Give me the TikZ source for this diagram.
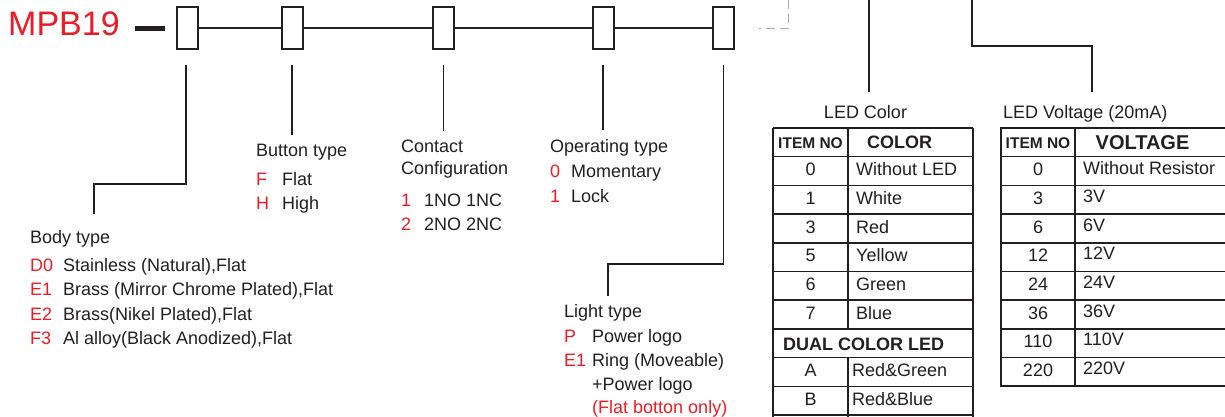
\documentclass[tikz,border=0pt]{standalone}
\usepackage{fontspec}
\setmainfont{Liberation Sans}
\definecolor{ink}{HTML}{231F20}
\definecolor{codered}{HTML}{ED1C24}
\definecolor{dashgray}{HTML}{A7A9AC}
\begin{document}
\begin{tikzpicture}[x=1pt,y=-1pt,
  box/.style={draw=ink, line width=2pt, minimum width=21pt, minimum height=42pt, inner sep=0pt, fill=white},
  conn/.style={draw=ink, line width=1.8pt},
  gdash/.style={draw=dashgray, line width=1pt, dash pattern=on 9pt off 5pt},
  txt/.style={anchor=base west, inner sep=0pt, text=ink, font=\fontsize{18}{20}\selectfont},
  code/.style={txt, text=codered},
  ctxt/.style={anchor=base, inner sep=0pt, text=ink, font=\fontsize{18}{20}\selectfont},
  hdsmall/.style={anchor=base, inner sep=0pt, text=ink, font=\fontsize{15.5}{18}\selectfont\bfseries},
  hdbig/.style={anchor=base, inner sep=0pt, text=ink, font=\fontsize{18}{20}\selectfont\bfseries},
  tline/.style={draw=ink, line width=1.5pt},
  touter/.style={draw=ink, line width=2pt}]
\useasboundingbox (0,0) rectangle (1225,417);

% title and dash
\node[anchor=base west, inner sep=0pt, text=codered, font=\fontsize{34}{36}\selectfont] (title) at (8,35.7) {MPB19};
\coordinate (dashA) at (135,28.5);
\coordinate (dashB) at (165,28.5);
\draw[draw=ink, line width=4.5pt] (dashA) -- (dashB);

% boxes
\node[box] (box1) at (187.5,28) {};
\node[box] (box2) at (292,28) {};
\node[box] (box3) at (443.5,28) {};
\node[box] (box4) at (603,28) {};
\node[box] (box5) at (723.5,28) {};
\draw[conn] (box1) -- (box2);
\draw[conn] (box2) -- (box3);
\draw[conn] (box3) -- (box4);
\draw[conn] (box4) -- (box5);

% gray dashed
\coordinate (dTop) at (788,0);
\coordinate (dCorner) at (788,29);
\coordinate (dEnd) at (759,29);
\draw[gdash] (dTop) -- (dCorner) -- (dEnd);

% connectors from boxes
\coordinate (b1s) at (186,65);
\coordinate (b1k) at (94,184);
\coordinate (b1e) at (94,214);
\draw[conn] (b1s) |- (b1k) -- (b1e);
\coordinate (b2s) at (292,65);
\coordinate (b2e) at (292,135);
\draw[conn] (b2s) -- (b2e);
\coordinate (b3s) at (443.5,65);
\coordinate (b3e) at (443.5,131);
\draw[conn] (b3s) -- (b3e);
\coordinate (b4s) at (603,65);
\coordinate (b4e) at (603,130);
\draw[conn] (b4s) -- (b4e);
\coordinate (b5s) at (723.5,65);
\coordinate (b5k) at (608,264);
\coordinate (b5e) at (608,296);
\draw[conn] (b5s) |- (b5k) -- (b5e);

% LED lines
\coordinate (lcTop) at (869,0);
\coordinate (lcEnd) at (869,92);
\draw[conn] (lcTop) -- (lcEnd);
\coordinate (lvTop) at (972,0);
\coordinate (lvK) at (1092,46);
\coordinate (lvEnd) at (1092,92);
\draw[conn] (lvTop) |- (lvK) -- (lvEnd);

% Body type
\node[txt] (bodyT) at (30,243) {Body type};
\node[code] (bc1) at (30,271) {D0};
\node[txt] (bd1) at (63,271) {Stainless (Natural),Flat};
\node[code] (bc2) at (30,295.5) {E1};
\node[txt] (bd2) at (63,295.5) {Brass (Mirror Chrome Plated),Flat};
\node[code] (bc3) at (30,320) {E2};
\node[txt] (bd3) at (63,320) {Brass(Nikel Plated),Flat};
\node[code] (bc4) at (30,344.5) {F3};
\node[txt] (bd4) at (63,344.5) {Al alloy(Black Anodized),Flat};

% Button type
\node[txt] (butT) at (256,157) {Button type};
\node[code] (uc1) at (256,185) {F};
\node[txt] (ud1) at (282,185) {Flat};
\node[code] (uc2) at (256,209.5) {H};
\node[txt] (ud2) at (282,209.5) {High};

% Contact configuration
\node[txt] (conT1) at (401,152) {Contact};
\node[txt] (conT2) at (401,174) {Configuration};
\node[code] (cc1) at (401,206) {1};
\node[txt] (cd1) at (424,206) {1NO 1NC};
\node[code] (cc2) at (401,230.5) {2};
\node[txt] (cd2) at (424,230.5) {2NO 2NC};

% Operating type
\node[txt] (opT) at (550,152) {Operating type};
\node[code] (oc1) at (550,177) {0};
\node[txt] (od1) at (571,177) {Momentary};
\node[code] (oc2) at (550,202) {1};
\node[txt] (od2) at (571,202) {Lock};

% Light type
\node[txt] (liT) at (564,317) {Light type};
\node[code] (lc1) at (564,342) {P};
\node[txt] (ld1) at (592,342) {Power logo};
\node[code] (lc2) at (564,366) {E1};
\node[txt] (ld2) at (592,366) {Ring (Moveable)};
\node[txt] (ld3) at (592,390) {+Power logo};
\node[code] (ld4) at (592,413.5) {(Flat botton only)};

% LED Color table
\node[ctxt] (ledcT) at (865.5,119) {LED Color};
\foreach \k in {1,...,10} {\draw[tline] (773,128+28.7*\k) -- (973,128+28.7*\k);}
\draw[touter] (773,128) -- (973,128);
\draw[touter] (773,128) -- (773,418);
\draw[touter] (973,128) -- (973,418);
\draw[tline] (848,128) -- (848,328.9);
\draw[tline] (848,357.6) -- (848,418);
\node[hdsmall] (ch1) at (810.5,148) {ITEM NO};
\node[hdbig] (ch2) at (899.5,148.5) {COLOR};
\node[ctxt] (cn0) at (810.5,156.7+19) {0};
\node[txt] (cv0) at (856,156.7+19) {Without LED};
\node[ctxt] (cn1) at (810.5,185.4+19) {1};
\node[txt] (cv1) at (856,185.4+19) {White};
\node[ctxt] (cn3) at (810.5,214.1+19) {3};
\node[txt] (cv3) at (856,214.1+19) {Red};
\node[ctxt] (cn5) at (810.5,242.8+19) {5};
\node[txt] (cv5) at (856,242.8+19) {Yellow};
\node[ctxt] (cn6) at (810.5,271.5+19) {6};
\node[txt] (cv6) at (856,271.5+19) {Green};
\node[ctxt] (cn7) at (810.5,300.2+19) {7};
\node[txt] (cv7) at (856,300.2+19) {Blue};
\node[hdbig, anchor=base west] (dual) at (783,350) {DUAL COLOR LED};
\node[ctxt] (cnA) at (810.5,357.6+19) {A};
\node[txt] (cvA) at (852,357.6+19) {Red\&Green};
\node[ctxt] (cnB) at (810.5,386.3+19) {B};
\node[txt] (cvB) at (852,386.3+19) {Red\&Blue};

% LED Voltage table
\node[txt] (ledvT) at (1003,119) {LED Voltage (20mA)};
\foreach \k in {1,...,8} {\draw[tline] (1001,128+28.7*\k) -- (1227,128+28.7*\k);}
\draw[touter] (1227,128) -- (1001,128) -- (1001,386.3) -- (1227,386.3);
\draw[tline] (1075,128) -- (1075,386.3);
\node[hdsmall] (vh1) at (1038,148) {ITEM NO};
\node[anchor=base, inner sep=0pt, text=ink, font=\fontsize{20}{22}\selectfont\bfseries] (vh2) at (1142.5,149) {VOLTAGE};
\node[ctxt] (vn0) at (1038,156.7+19) {0};
\node[txt] (vv0) at (1083,156.7+18) {Without Resistor};
\node[ctxt] (vn3) at (1038,185.4+19) {3};
\node[txt] (vv3) at (1083,185.4+17) {3V};
\node[ctxt] (vn6) at (1038,214.1+19) {6};
\node[txt] (vv6) at (1083,214.1+17) {6V};
\node[ctxt] (vn12) at (1038,242.8+19) {12};
\node[txt] (vv12) at (1083,242.8+17) {12V};
\node[ctxt] (vn24) at (1038,271.5+19) {24};
\node[txt] (vv24) at (1083,271.5+17) {24V};
\node[ctxt] (vn36) at (1038,300.2+19) {36};
\node[txt] (vv36) at (1083,300.2+17) {36V};
\node[ctxt] (vn110) at (1038,328.9+19) {110};
\node[txt] (vv110) at (1083,328.9+17) {110V};
\node[ctxt] (vn220) at (1038,357.6+19) {220};
\node[txt] (vv220) at (1083,357.6+17) {220V};
\end{tikzpicture}
\end{document}
